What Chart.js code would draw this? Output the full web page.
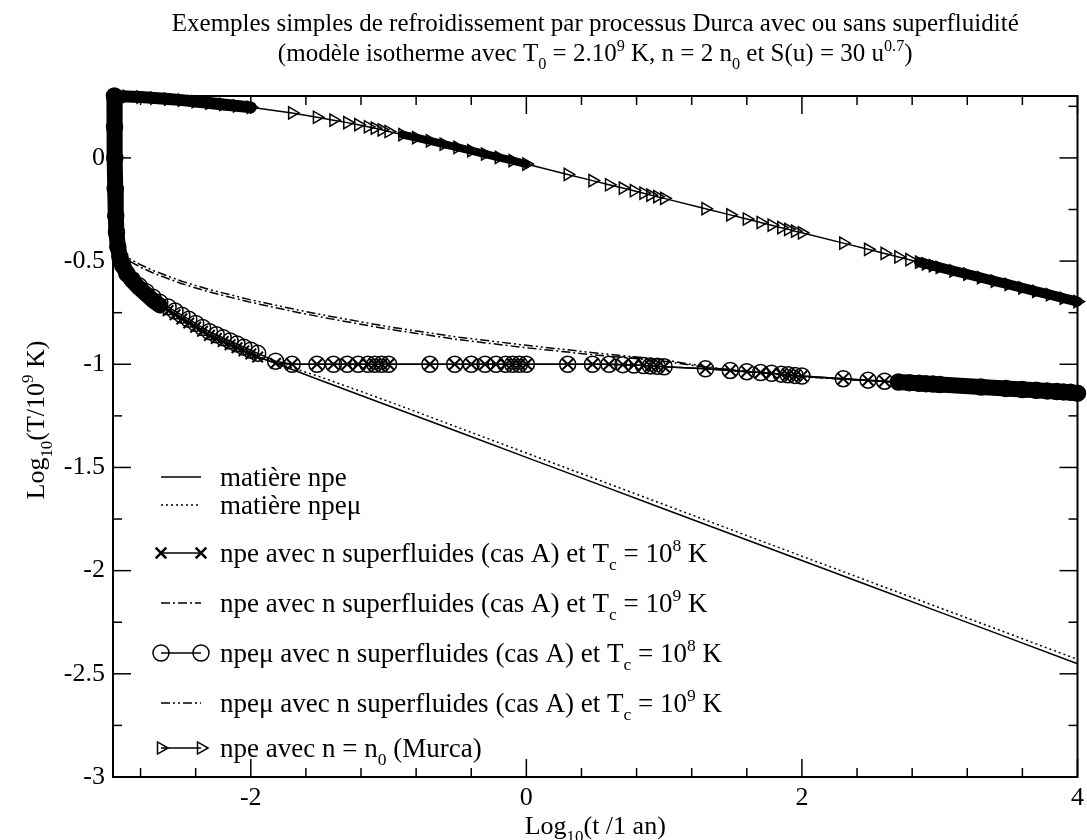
<!DOCTYPE html>
<html><head><meta charset="utf-8">
<script src="https://cdn.jsdelivr.net/npm/chart.js@4.4.0/dist/chart.umd.min.js"></script>
<style>html,body{margin:0;padding:0;background:#fff;}#c{display:block;}</style>
</head><body>
<canvas id="c" width="1087" height="840" style="width:1087px;height:840px"></canvas>
<script>
// ---------- data (log10 t [yr], log10 T/1e9 K) ----------
const xTickLabels = [-2, 0, 2, 4];
const yTickLabels = [0, -0.5, -1, -1.5, -2, -2.5, -3];
const xMinorTicks = [-2.8, -2.4, -1.6, -1.2, -0.8, -0.4, 0.4, 0.8, 1.2, 1.6, 2.4, 2.8, 3.2, 3.6];
const yMinorTicks = [0.25, -0.25, -0.75, -1.25, -1.75, -2.25, -2.75];

// npe matter (no superfluidity) and npe-mu matter
const npeX   = [-2.99, -2.987, -2.984, -2.98, -2.975, -2.965, -2.95, -2.93, -2.9, -2.86, -2.81, -2.76, -2.71, -2.66, -2.6, -2.5, -2.4, -2.3, -2.2, -2.1, -2.0, -1.9, -1.8, -1.7, -1.5, -1.0, -0.5, 0, 0.5, 1, 1.5, 2, 2.5, 3, 3.5, 4];
const npeY   = [0.30, 0.00, -0.15, -0.28, -0.36, -0.43, -0.48, -0.52, -0.56, -0.595, -0.63, -0.66, -0.69, -0.715, -0.74, -0.78, -0.82, -0.86, -0.89, -0.92, -0.95, -0.975, -1.00, -1.025, -1.076, -1.201, -1.326, -1.451, -1.576, -1.701, -1.826, -1.951, -2.076, -2.201, -2.326, -2.451];
const npemuY = [0.30, 0.00, -0.15, -0.28, -0.36, -0.43, -0.48, -0.52, -0.56, -0.595, -0.63, -0.66, -0.69, -0.715, -0.74, -0.78, -0.82, -0.86, -0.89, -0.92, -0.95, -0.973, -0.996, -1.017, -1.06, -1.18, -1.305, -1.43, -1.555, -1.68, -1.805, -1.93, -2.055, -2.18, -2.305, -2.43];

// superfluid neutrons, Tc = 1e9 K (npe : dash-dot, npe-mu : dash-dot-dot)
const sf9X      = [-2.99, -2.987, -2.984, -2.98, -2.97, -2.95, -2.92, -2.88, -2.8, -2.7, -2.5, -2.3, -2.0, -1.65, -1.42, -1.0, -0.5, 0, 0.5, 1.0, 1.3, 1.6, 2.0, 2.5, 3.0, 3.5, 4.0];
const npeSf9Y   = [0.30, 0.00, -0.15, -0.28, -0.38, -0.44, -0.475, -0.50, -0.53, -0.56, -0.61, -0.65, -0.70, -0.75, -0.78, -0.83, -0.88, -0.92, -0.955, -0.985, -1.015, -1.035, -1.06, -1.08, -1.10, -1.12, -1.14];
const npemuSf9Y = [0.30, 0.00, -0.15, -0.28, -0.37, -0.43, -0.462, -0.488, -0.518, -0.548, -0.598, -0.638, -0.688, -0.738, -0.768, -0.818, -0.868, -0.908, -0.945, -0.978, -1.012, -1.035, -1.06, -1.08, -1.10, -1.12, -1.14];

// superfluid neutrons, Tc = 1e8 K (npe : crosses, npe-mu : circles)
const sf8X = [-2.99, -2.989, -2.987, -2.984, -2.98, -2.975, -2.965, -2.95, -2.93, -2.9, -2.86, -2.81, -2.76, -2.71, -2.66,
  -2.6, -2.55, -2.5, -2.45, -2.4, -2.35, -2.3, -2.25, -2.2, -2.15, -2.1, -2.05, -2.0, -1.95, -1.82,
  -1.70, -1.52, -1.40, -1.30, -1.22, -1.15, -1.10, -1.05, -1.00,
  -0.70, -0.52, -0.40, -0.30, -0.22, -0.15, -0.10, -0.05, 0.00,
  0.30, 0.48, 0.60, 0.70, 0.78, 0.85, 0.90, 0.95, 1.00,
  1.30, 1.48, 1.60, 1.70, 1.78, 1.85, 1.90, 1.95, 2.00,
  2.30, 2.48, 2.60, 2.70, 2.78, 2.85, 2.90, 2.95, 3.00,
  3.30, 3.48, 3.60, 3.70, 3.78, 3.85, 3.90, 3.95, 4.00];
const npeSf8Y = [0.30, 0.15, 0.00, -0.15, -0.28, -0.36, -0.43, -0.48, -0.52, -0.56, -0.595, -0.63, -0.66, -0.69, -0.715,
  -0.74, -0.76, -0.78, -0.80, -0.82, -0.84, -0.86, -0.875, -0.89, -0.905, -0.92, -0.935, -0.95, -0.965, -0.995,
  -1.00, -1.00, -1.00, -1.00, -1.00, -1.00, -1.00, -1.00, -1.00,
  -1.00, -1.00, -1.00, -1.00, -1.00, -1.00, -1.00, -1.00, -1.00,
  -1.00, -1.00, -1.00, -1.002, -1.004, -1.006, -1.008, -1.01, -1.012,
  -1.022, -1.03, -1.036, -1.04, -1.044, -1.048, -1.051, -1.054, -1.057,
  -1.07, -1.077, -1.082, -1.086, -1.089, -1.092, -1.094, -1.096, -1.098,
  -1.11, -1.117, -1.122, -1.126, -1.129, -1.132, -1.134, -1.136, -1.14];
const npemuSf8Y = [0.30, 0.15, 0.00, -0.15, -0.28, -0.36, -0.43, -0.48, -0.52, -0.56, -0.59, -0.62, -0.648, -0.675, -0.70,
  -0.722, -0.742, -0.762, -0.782, -0.802, -0.822, -0.842, -0.857, -0.872, -0.887, -0.902, -0.917, -0.932, -0.947, -0.985,
  -1.00, -1.00, -1.00, -1.00, -1.00, -1.00, -1.00, -1.00, -1.00,
  -1.00, -1.00, -1.00, -1.00, -1.00, -1.00, -1.00, -1.00, -1.00,
  -1.00, -1.00, -1.00, -1.002, -1.004, -1.006, -1.008, -1.01, -1.012,
  -1.022, -1.03, -1.036, -1.04, -1.044, -1.048, -1.051, -1.054, -1.057,
  -1.07, -1.077, -1.082, -1.086, -1.089, -1.092, -1.094, -1.096, -1.098,
  -1.11, -1.117, -1.122, -1.126, -1.129, -1.132, -1.134, -1.136, -1.14];

// modified Urca, n = n0
const murcaX = [-3.0, -2.9, -2.8, -2.7, -2.6, -2.5, -2.4, -2.3, -2.2, -2.1, -2.0,
  -1.70, -1.52, -1.40, -1.30, -1.22, -1.15, -1.10, -1.05, -1.00,
  -0.90, -0.80, -0.70, -0.60, -0.50, -0.40, -0.30, -0.20, -0.10, 0.00,
  0.30, 0.48, 0.60, 0.70, 0.78, 0.85, 0.90, 0.95, 1.00,
  1.30, 1.48, 1.60, 1.70, 1.78, 1.85, 1.90, 1.95, 2.00,
  2.30, 2.48, 2.60, 2.70, 2.78, 2.85, 2.90, 2.95, 3.00,
  3.1, 3.2, 3.3, 3.4, 3.5, 3.6, 3.7, 3.8, 3.9, 4.0];
const murcaY = [0.30, 0.298, 0.295, 0.29, 0.285, 0.28, 0.273, 0.266, 0.259, 0.252, 0.245,
  0.218, 0.197, 0.183, 0.171, 0.161, 0.151, 0.144, 0.136, 0.128,
  0.113, 0.098, 0.083, 0.067, 0.051, 0.035, 0.019, 0.003, -0.013, -0.03,
  -0.08, -0.11, -0.13, -0.146, -0.159, -0.171, -0.18, -0.188, -0.196,
  -0.246, -0.276, -0.296, -0.313, -0.326, -0.338, -0.346, -0.355, -0.363,
  -0.413, -0.443, -0.463, -0.48, -0.493, -0.505, -0.513, -0.522, -0.53,
  -0.547, -0.563, -0.58, -0.597, -0.613, -0.63, -0.647, -0.663, -0.68, -0.696];

// ---------- helpers ----------
const FONT = '"Liberation Serif", "Times New Roman", serif';
const pts = (xs, ys) => xs.map((x, i) => ({x: x, y: ys[i]}));
const span = (xs, ys, a, b) => pts(xs, ys).filter(p => p.x >= a && p.x <= b);

const lineDS = (data, extra) => Object.assign({
  data: data, showLine: true, borderColor: '#000', backgroundColor: 'rgba(0,0,0,0)',
  borderWidth: 1.5, pointRadius: 0, tension: 0, clip: false
}, extra);
const bandDS = (data, w) => lineDS(data, {borderWidth: w, borderCapStyle: 'round', borderJoinStyle: 'round'});

const DASH9 = [9, 3, 2, 3];
const DASH9MU = [9, 3, 2, 3, 2, 3];
const DOT = [2, 3];

const datasets = [
  lineDS(pts(sf8X, npeSf8Y), {pointStyle: 'crossRot', pointRadius: 7.5, pointBorderWidth: 2, pointBorderColor: '#000', pointBackgroundColor: 'rgba(0,0,0,0)'}),
  lineDS(pts(sf8X, npemuSf8Y), {pointStyle: 'circle', pointRadius: 8, pointBorderWidth: 1.5, pointBorderColor: '#000', pointBackgroundColor: 'rgba(0,0,0,0)'}),
  lineDS(pts(murcaX, murcaY), {pointStyle: 'triangle', pointRotation: 90, pointRadius: 7, pointBorderWidth: 1.5, pointBorderColor: '#000', pointBackgroundColor: 'rgba(0,0,0,0)'}),
  bandDS(span(sf8X, npeSf8Y, -3, -2.66), 16),
  bandDS(span(sf8X, npeSf8Y, 2.7, 4), 16),
  bandDS(span(murcaX, murcaY, -3, -2), 12),
  bandDS(span(murcaX, murcaY, -0.9, 0), 8),
  bandDS(span(murcaX, murcaY, 2.85, 4), 10),
  lineDS(pts(npeX, npeY), {}),
  lineDS(pts(npeX, npemuY), {borderDash: DOT}),
  lineDS(pts(sf9X, npeSf9Y), {borderDash: DASH9}),
  lineDS(pts(sf9X, npemuSf9Y), {borderDash: DASH9MU})
];

function richWidth(ctx, parts, size) {
  let w = 0;
  for (const [t, m] of parts) { ctx.font = (m ? size * 0.65 : size) + 'px ' + FONT; w += ctx.measureText(t).width; }
  return w;
}
function drawRich(ctx, parts, x, baseline, size, align) {
  const w = richWidth(ctx, parts, size);
  let cx = align === 'center' ? x - w / 2 : (align === 'right' ? x - w : x);
  ctx.textAlign = 'left'; ctx.textBaseline = 'alphabetic'; ctx.fillStyle = '#000';
  for (const [t, m] of parts) {
    const s = m ? size * 0.65 : size;
    ctx.font = s + 'px ' + FONT;
    const dy = m === 'sub' ? size * 0.3 : (m === 'sup' ? -size * 0.42 : 0);
    ctx.fillText(t, cx, baseline + dy);
    cx += ctx.measureText(t).width;
  }
}
function marker(ctx, style, r, bw, x, y, rot) {
  ctx.save();
  ctx.strokeStyle = '#000'; ctx.fillStyle = 'rgba(0,0,0,0)'; ctx.lineWidth = bw;
  Chart.helpers.drawPoint(ctx, {pointStyle: style, radius: r, rotation: rot || 0, borderWidth: bw}, x, y);
  ctx.restore();
}

const titleLine1 = [['Exemples simples de refroidissement par processus Durca avec ou sans superfluidité']];
const titleLine2 = [['(modèle isotherme avec T'], ['0', 'sub'], [' = 2.10'], ['9', 'sup'], [' K, n = 2 n'], ['0', 'sub'], [' et S(u) = 30 u'], ['0.7', 'sup'], [')']];
const xTitle = [['Log'], ['10', 'sub'], ['(t /1 an)']];
const yTitle = [['Log'], ['10', 'sub'], ['(T/10'], ['9', 'sup'], [' K)']];
const legendTexts = [
  [['matière npe']],
  [['matière npeμ']],
  [['npe avec n superfluides (cas A) et T'], ['c', 'sub'], [' = 10'], ['8', 'sup'], [' K']],
  [['npe avec n superfluides (cas A) et T'], ['c', 'sub'], [' = 10'], ['9', 'sup'], [' K']],
  [['npeμ avec n superfluides (cas A) et T'], ['c', 'sub'], [' = 10'], ['8', 'sup'], [' K']],
  [['npeμ avec n superfluides (cas A) et T'], ['c', 'sub'], [' = 10'], ['9', 'sup'], [' K']],
  [['npe avec n = n'], ['0', 'sub'], [' (Murca)']]
];
const legendY = [477, 505, 553, 603, 653, 703, 748];

const decor = {
  id: 'decor',
  afterDraw(chart) {
    const ctx = chart.ctx, a = chart.chartArea, xs = chart.scales.x, ys = chart.scales.y;
    ctx.save();
    ctx.strokeStyle = '#000'; ctx.lineWidth = 2; ctx.setLineDash([]);
    ctx.strokeRect(a.left, a.top, a.right - a.left, a.bottom - a.top);
    ctx.lineWidth = 1.5;
    const tick = (x1, y1, x2, y2) => { ctx.beginPath(); ctx.moveTo(x1, y1); ctx.lineTo(x2, y2); ctx.stroke(); };
    const MAJ = 18, MIN = 9;
    xTickLabels.forEach(v => { const p = xs.getPixelForValue(v); tick(p, a.bottom, p, a.bottom - MAJ); tick(p, a.top, p, a.top + MAJ); });
    xMinorTicks.forEach(v => { const p = xs.getPixelForValue(v); tick(p, a.bottom, p, a.bottom - MIN); tick(p, a.top, p, a.top + MIN); });
    yTickLabels.forEach(v => { const p = ys.getPixelForValue(v); tick(a.left, p, a.left + MAJ, p); tick(a.right, p, a.right - MAJ, p); });
    yMinorTicks.forEach(v => { const p = ys.getPixelForValue(v); tick(a.left, p, a.left + MIN, p); tick(a.right, p, a.right - MIN, p); });

    // titles
    const cx = (a.left + a.right) / 2;
    drawRich(ctx, titleLine1, cx, 31, 25, 'center');
    drawRich(ctx, titleLine2, cx, 61, 25, 'center');
    drawRich(ctx, xTitle, cx, 834, 26, 'center');
    ctx.save(); ctx.translate(44, 420); ctx.rotate(-Math.PI / 2);
    drawRich(ctx, yTitle, 0, 0, 26, 'center');
    ctx.restore();

    // legend
    const L1 = 161, L2 = 201, TX = 220, FS = 27;
    legendY.forEach((y, i) => {
      ctx.save();
      ctx.strokeStyle = '#000'; ctx.lineWidth = 1.5;
      const dash = [[], DOT, [], DASH9, [], DASH9MU, []][i];
      ctx.setLineDash(dash);
      ctx.beginPath(); ctx.moveTo(L1, y); ctx.lineTo(L2, y); ctx.stroke();
      ctx.setLineDash([]);
      ctx.restore();
      if (i === 2) { marker(ctx, 'crossRot', 7.5, 2.5, L1, y); marker(ctx, 'crossRot', 7.5, 2.5, L2, y); }
      if (i === 4) { marker(ctx, 'circle', 8, 1.5, L1, y); marker(ctx, 'circle', 8, 1.5, L2, y); }
      if (i === 6) { marker(ctx, 'triangle', 7, 1.5, L1, y, 90); marker(ctx, 'triangle', 7, 1.5, L2, y, 90); }
      drawRich(ctx, legendTexts[i], TX, y + FS * 0.33, FS, 'left');
    });
    ctx.restore();
  }
};

Chart.defaults.font.family = FONT;
new Chart(document.getElementById('c'), {
  type: 'scatter',
  data: {datasets: datasets},
  options: {
    responsive: false, animation: false, devicePixelRatio: 1,
    layout: {padding: {top: 96, left: 0, right: 2, bottom: 0}},
    plugins: {legend: {display: false}, tooltip: {enabled: false}, title: {display: false}},
    scales: {
      x: {
        type: 'linear', min: -3, max: 4,
        afterBuildTicks: s => { s.ticks = xTickLabels.map(v => ({value: v})); },
        afterFit: s => { s.height = 63; s.paddingLeft = 0; s.paddingRight = 0; },
        grid: {display: false, drawTicks: false}, border: {display: false},
        ticks: {color: '#000', font: {size: 26, family: FONT}, padding: 6, maxRotation: 0, autoSkip: false, callback: v => String(v)}
      },
      y: {
        type: 'linear', min: -3, max: 0.3,
        afterBuildTicks: s => { s.ticks = yTickLabels.map(v => ({value: v})); },
        afterFit: s => { s.width = 113; s.paddingTop = 0; s.paddingBottom = 0; },
        grid: {display: false, drawTicks: false}, border: {display: false},
        ticks: {color: '#000', font: {size: 26, family: FONT}, padding: 8, autoSkip: false, callback: v => String(v)}
      }
    }
  },
  plugins: [decor]
});
</script>
</body></html>
